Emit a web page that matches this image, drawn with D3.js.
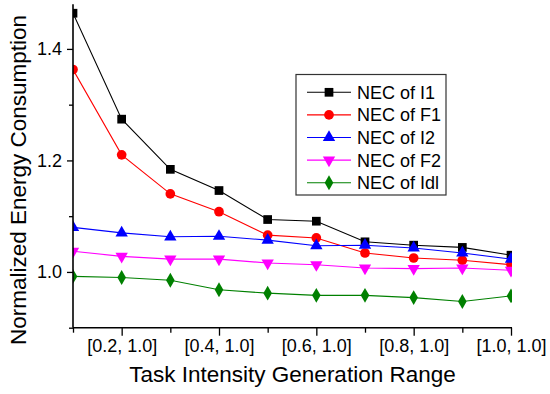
<!DOCTYPE html>
<html><head><meta charset="utf-8">
<script src="https://cdn.jsdelivr.net/npm/d3@7"></script>
<style>body{margin:0;background:#fff}svg{display:block}text{font-family:"Liberation Sans",Arial,sans-serif}</style>
</head><body><svg id="c" width="550" height="394"></svg>
<script>
const categories = ["[0.1, 1.0]","[0.2, 1.0]","[0.3, 1.0]","[0.4, 1.0]","[0.5, 1.0]","[0.6, 1.0]","[0.7, 1.0]","[0.8, 1.0]","[0.9, 1.0]","[1.0, 1.0]"];
const tickLabels = ["[0.2, 1.0]","[0.4, 1.0]","[0.6, 1.0]","[0.8, 1.0]","[1.0, 1.0]"];
const seriesNames = ["NEC of I1","NEC of F1","NEC of I2","NEC of F2","NEC of Idl"];
const necI1  = [1.464,1.274,1.184,1.146,1.094,1.091,1.054,1.048,1.044,1.030];
const necF1  = [1.363,1.210,1.140,1.108,1.066,1.061,1.034,1.025,1.021,1.013];
const necI2  = [1.080,1.070,1.063,1.064,1.057,1.047,1.048,1.043,1.034,1.023];
const necF2  = [1.037,1.028,1.023,1.023,1.016,1.013,1.007,1.006,1.007,1.003];
const necIdl = [0.992,0.990,0.985,0.968,0.962,0.958,0.958,0.954,0.947,0.957];
const yMajor = [1.0,1.2,1.4];
const yMinor = [0.9,1.1,1.3];

const series = [
  {name:seriesNames[0], values:necI1, color:"#000000", sym:d3.symbolSquare, size:76},
  {name:seriesNames[1], values:necF1, color:"#ff0000", sym:d3.symbolCircle, size:74},
  {name:seriesNames[2], values:necI2, color:"#0000ff", sym:d3.symbolTriangle, size:66},
  {name:seriesNames[3], values:necF2, color:"#ff00ff", sym:d3.symbolTriangle, size:66, flip:true},
  {name:seriesNames[4], values:necIdl, color:"#008000", sym:d3.symbolDiamond, size:64}
];

const svg = d3.select("#c");
const L=73, R=511, T=4.3, B=327.7;
const x = d3.scaleLinear().domain([0, categories.length-1]).range([L,R]);
const y = d3.scaleLinear().domain([0.9,1.48]).range([B,T]);

svg.append("defs").append("clipPath").attr("id","clip")
  .append("rect").attr("x",L).attr("y",0).attr("width",R-L+1).attr("height",B);

const plot = svg.append("g").attr("clip-path","url(#clip)");
const line = d3.line().x((d,i)=>x(i)).y(d=>y(d));
series.forEach(s=>{
  plot.append("path").datum(s.values).attr("d",line)
    .attr("fill","none").attr("stroke",s.color).attr("stroke-width",1.1);
  plot.selectAll(null).data(s.values).enter().append("path")
    .attr("d", d3.symbol().type(s.sym).size(s.size))
    .attr("transform",(d,i)=>`translate(${x(i)},${y(d)})`+(s.flip?" rotate(180)":""))
    .attr("fill",s.color);
});

// Y axis
const yAxisMajor = d3.axisLeft(y).tickValues(yMajor).tickSize(6).tickPadding(5).tickFormat(d3.format(".1f"));
const gy = svg.append("g").attr("transform",`translate(${L},0)`).call(yAxisMajor);
gy.select(".domain").remove();
gy.selectAll(".tick line").attr("stroke","#000").attr("stroke-width",1.3);
gy.selectAll("text").attr("font-size",18).attr("fill","#000").style("font-family","Liberation Sans, Arial, sans-serif");
const gyMinor = svg.append("g").attr("transform",`translate(${L},0)`).call(d3.axisLeft(y).tickValues(yMinor).tickSize(4).tickFormat(""));
gyMinor.select(".domain").remove();
gyMinor.selectAll(".tick line").attr("stroke","#000").attr("stroke-width",1.3);
svg.append("line").attr("x1",L).attr("x2",L).attr("y1",T).attr("y2",B).attr("stroke","#000").attr("stroke-width",1.6);

// X axis
const labelIdx = categories.map((c,i)=>i).filter(i=>tickLabels.includes(categories[i]));
const minorIdx = categories.map((c,i)=>i).filter(i=>!tickLabels.includes(categories[i]));
const gx = svg.append("g").attr("transform",`translate(0,${B})`)
  .call(d3.axisBottom(x).tickValues(labelIdx).tickSize(8).tickPadding(4).tickFormat(i=>categories[i]));
gx.select(".domain").remove();
gx.selectAll(".tick line").attr("stroke","#000").attr("stroke-width",1.3);
gx.selectAll("text").attr("font-size",18).attr("fill","#000").style("font-family","Liberation Sans, Arial, sans-serif");
const gxm = svg.append("g").attr("transform",`translate(0,${B})`)
  .call(d3.axisBottom(x).tickValues(minorIdx).tickSize(5).tickFormat(""));
gxm.select(".domain").remove();
gxm.selectAll(".tick line").attr("stroke","#000").attr("stroke-width",1.3);
svg.append("line").attr("x1",L).attr("x2",R+1).attr("y1",B).attr("y2",B).attr("stroke","#000").attr("stroke-width",1.6);

// Titles
svg.append("text").attr("x",292.5).attr("y",382).attr("text-anchor","middle")
  .attr("font-size",22.5).text("Task Intensity Generation Range");
svg.append("text").attr("transform",`translate(26,${(T+B)/2+14}) rotate(-90)`).attr("text-anchor","middle")
  .attr("font-size",22.5).text("Normalized Energy Consumption");

// Legend
const lg = svg.append("g");
lg.append("rect").attr("x",296).attr("y",74.5).attr("width",150).attr("height",120.5)
  .attr("fill","#fff").attr("stroke","#333").attr("stroke-width",1.2);
series.forEach((s,i)=>{
  const cy = 92.3 + i*22.6;
  lg.append("line").attr("x1",307).attr("x2",351).attr("y1",cy).attr("y2",cy).attr("stroke",s.color).attr("stroke-width",1.1);
  lg.append("path").attr("d", d3.symbol().type(s.sym).size(s.size))
    .attr("transform",`translate(329,${cy})`+(s.flip?" rotate(180)":"")).attr("fill",s.color);
  lg.append("text").attr("x",357).attr("y",cy+6.5).attr("font-size",18).text(s.name);
});
</script></body></html>
